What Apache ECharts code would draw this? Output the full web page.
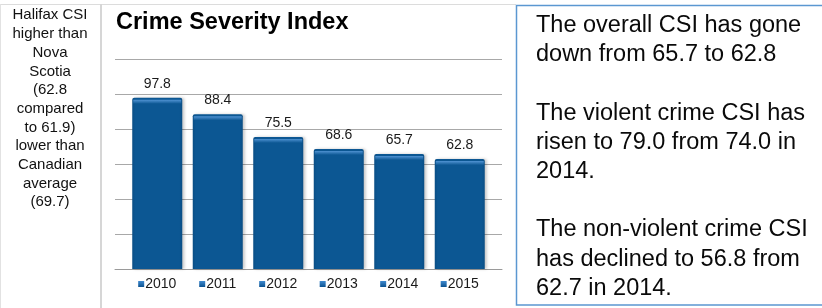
<!DOCTYPE html>
<html>
<head>
<meta charset="utf-8">
<script src="https://cdn.jsdelivr.net/npm/echarts@6/dist/echarts.min.js"></script>
<style>
  html, body { margin: 0; padding: 0; background: #fff; }
  #main { width: 822px; height: 308px; }
</style>
</head>
<body>
<div id="main"></div>
<script>
// chart data
var years = ['2010', '2011', '2012', '2013', '2014', '2015'];
var csi = [97.8, 88.4, 75.5, 68.6, 65.7, 62.8];
var yMin = 0, yMax = 120, yStep = 20;

var title = 'Crime Severity Index';
var sideNote = ['Halifax CSI', 'higher than', 'Nova', 'Scotia', '(62.8', 'compared', 'to 61.9)', 'lower than', 'Canadian', 'average', '(69.7)'];
var notes = [
  'The overall CSI has gone', 'down from 65.7 to 62.8', '',
  'The violent crime CSI has', 'risen to 79.0 from 74.0 in', '2014.', '',
  'The non-violent crime CSI', 'has declined to 56.8 from', '62.7 in 2014.'
];

var font = '"Liberation Sans", Arial, sans-serif';

var barFill = new echarts.graphic.LinearGradient(0, 0, 1, 0, [
  { offset: 0, color: '#0a4e85' },
  { offset: 0.06, color: '#0c5793' },
  { offset: 0.94, color: '#0c5793' },
  { offset: 1, color: '#0a4e85' }
]);

var myChart = echarts.init(document.getElementById('main'), null, { renderer: 'canvas' });

var option = {
  backgroundColor: '#fff',
  animation: false,
  grid: [
    // grid 0 only draws the wider gridlines / baseline
    { left: 115, right: 320, top: 59, bottom: 39 },
    // grid 1 holds the bars
    { left: 127, right: 332, top: 59, bottom: 39 }
  ],
  xAxis: [
    { type: 'category', gridIndex: 0, data: years,
      axisLine: { show: true, lineStyle: { color: '#9a9a9a', width: 1 } },
      axisTick: { show: false }, axisLabel: { show: false } },
    { type: 'category', gridIndex: 1, data: years,
      axisLine: { show: false }, axisTick: { show: false },
      axisLabel: {
        interval: 0, margin: 8,
        formatter: function (v) { return '{i|}{t|' + v + '}'; },
        rich: {
          i: { width: 6, height: 6,
               backgroundColor: new echarts.graphic.LinearGradient(0, 0, 0, 1, [
                 { offset: 0, color: '#3f8ad0' }, { offset: 1, color: '#0b5290' }]) },
          t: { fontFamily: font, fontSize: 14, color: '#1a1a1a', lineHeight: 14, padding: [0, 0, 0, 1] }
        }
      } }
  ],
  yAxis: [
    { type: 'value', gridIndex: 0, min: yMin, max: yMax, interval: yStep,
      axisLine: { show: false }, axisTick: { show: false }, axisLabel: { show: false },
      splitLine: { lineStyle: { color: '#a8a8a8', width: 1 } } },
    { type: 'value', gridIndex: 1, min: yMin, max: yMax, interval: yStep,
      axisLine: { show: false }, axisTick: { show: false }, axisLabel: { show: false },
      splitLine: { show: false } }
  ],
  series: [
    {
      type: 'bar', xAxisIndex: 1, yAxisIndex: 1,
      data: csi, barWidth: 50,
      itemStyle: {
        color: barFill, borderRadius: [2, 2, 0, 0],
        shadowColor: 'rgba(0,0,0,0.22)', shadowBlur: 3, shadowOffsetX: 2, shadowOffsetY: 0
      },
      label: {
        show: true, position: 'top', distance: 7,
        fontFamily: font, fontSize: 14, lineHeight: 14, color: '#1a1a1a',
        formatter: function (p) { return p.value.toFixed(1); }
      },
      z: 2
    },
    {
      // light bevel along the top of each bar
      type: 'pictorialBar', xAxisIndex: 1, yAxisIndex: 1,
      data: csi, symbol: 'rect', symbolSize: [48, 4],
      symbolPosition: 'end', symbolOffset: [0, '50%'],
      itemStyle: { color: new echarts.graphic.LinearGradient(0, 0, 0, 1, [
        { offset: 0, color: '#4f92d2' }, { offset: 1, color: '#0c5793' }]) },
      silent: true, z: 3
    }
  ],
  graphic: [
    // frame lines
    { type: 'line', shape: { x1: 0, y1: 4.5, x2: 516, y2: 4.5 }, style: { stroke: '#dcdcdc', lineWidth: 1 } },
    { type: 'line', shape: { x1: 0.5, y1: 4, x2: 0.5, y2: 308 }, style: { stroke: '#e2e2e2', lineWidth: 1 } },
    { type: 'line', shape: { x1: 101, y1: 4, x2: 101, y2: 308 }, style: { stroke: '#d6d6d6', lineWidth: 2 } },
    // left note
    { type: 'text', x: 50, y: 6, style: {
        text: sideNote.join('\n'), align: 'center',
        font: '15px ' + font, lineHeight: 18.7, fill: '#111' } },
    // title
    { type: 'text', x: 116, y: 11, style: {
        text: title, font: 'bold 23.5px ' + font, fill: '#000' } },
    // right text box
    { type: 'rect', shape: { x: 516.5, y: 5.5, width: 320, height: 299.5 },
      style: { fill: 'none', stroke: '#5b97d1', lineWidth: 1.5 } },
    { type: 'text', x: 536, y: 11, style: {
        text: notes.join('\n'),
        font: '23.5px ' + font, lineHeight: 29.2, fill: '#0a0a0a' } }
  ]
};

myChart.setOption(option);
</script>
</body>
</html>
